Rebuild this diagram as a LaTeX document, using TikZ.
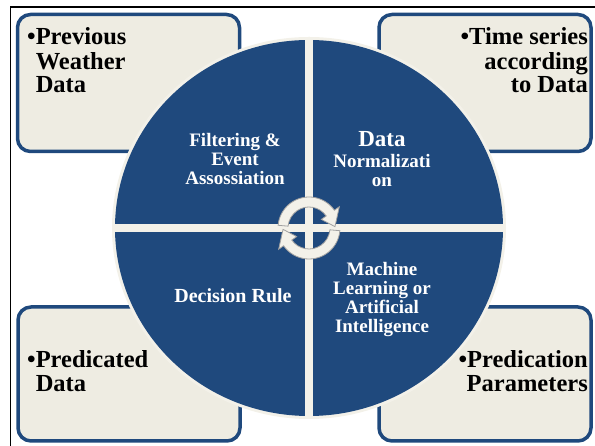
\documentclass[tikz,border=0pt]{standalone}
\usepackage{fontspec}
\setmainfont{Liberation Serif}

\definecolor{ringblue}{RGB}{31,73,125}
\definecolor{paper}{RGB}{238,236,226}
\definecolor{rim}{RGB}{243,241,233}
\definecolor{spinedge}{RGB}{160,160,160}

\begin{document}
\begin{tikzpicture}[x=1pt,y=1pt,
  card/.style={draw=ringblue,line width=3.5pt,fill=paper,rounded corners=13pt,inner sep=0pt},
  cardtext/.style={inner sep=0pt,font=\bfseries\fontsize{24.5}{23.5}\selectfont},
  quadtext/.style={inner sep=0pt,text=white,font=\bfseries\fontsize{19}{18.5}\selectfont},
  spin/.style={fill=rim,draw=spinedge,line width=0.8pt}]
\useasboundingbox (0,0) rectangle (595,446);
% outer frame
\draw[line width=1.6pt] (10.5,0) -- (10.5,439) -- (595,439);

% the four corner cards
\node[card,minimum width=222pt,minimum height=137pt] (prev) at (128.5,363) {};
\node[card,minimum width=212pt,minimum height=137pt] (series) at (485,363) {};
\node[card,minimum width=222pt,minimum height=134pt] (pred) at (129,72) {};
\node[card,minimum width=212pt,minimum height=134pt] (param) at (485,72) {};

\node[cardtext,anchor=base west] (prevtxt) at (27,401)
  {\begin{tabular}[t]{@{}l@{}l@{}}\textbullet&Previous\\&Weather\\&Data\end{tabular}};
\node[cardtext,anchor=base east] (seriestxt) at (588,401)
  {\begin{tabular}[t]{@{}r@{}}\textbullet Time series\\according\\to Data\end{tabular}};
\node[cardtext,anchor=base west] (predtxt) at (27,78)
  {\begin{tabular}[t]{@{}l@{}l@{}}\textbullet&Predicated\\&Data\end{tabular}};
\node[cardtext,anchor=base east] (paramtxt) at (588,78)
  {\begin{tabular}[t]{@{}r@{}}\textbullet Predication\\Parameters\end{tabular}};

% the ring, split in four
\coordinate (hub) at (309,218);
\fill[rim] (hub) ellipse [x radius=197,y radius=191];
\fill[ringblue] (hub) ellipse [x radius=194,y radius=188];
\begin{scope}
  \clip (hub) ellipse [x radius=197,y radius=191];
  \draw[rim,line width=8pt] ([yshift=-200pt]hub) -- ([yshift=200pt]hub);
  \draw[rim,line width=8pt] ([xshift=-200pt]hub) -- ([xshift=200pt]hub);
\end{scope}

\node[quadtext,anchor=base] (filter) at (235,299)
  {\begin{tabular}[t]{@{}c@{}}Filtering \&\\Event\\Assossiation\end{tabular}};
\node[quadtext,anchor=base] (norm) at (382,299)
  {\begin{tabular}[t]{@{}c@{}}{\fontsize{23}{22}\selectfont Data}\\[2pt]Normalizati\\on\end{tabular}};
\node[quadtext,anchor=base] (rule) at (233,143) {\fontsize{20}{20}\selectfont Decision Rule};
\node[quadtext,anchor=base] (learn) at (382,170)
  {\begin{tabular}[t]{@{}c@{}}Machine\\Learning or\\Artificial\\Intelligence\end{tabular}};

% cycle arrows in the middle
\begin{scope}[shift={(hub)}]
  \filldraw[spin] (175:31) arc[start angle=175,end angle=35,radius=31]
    -- (35:37) -- (3:26) -- (35:15) -- (35:21)
    arc[start angle=35,end angle=175,radius=21] -- cycle;
  \filldraw[spin] (-5:31) arc[start angle=-5,end angle=-145,radius=31]
    -- (-145:37) -- (-177:26) -- (-145:15) -- (-145:21)
    arc[start angle=-145,end angle=-5,radius=21] -- cycle;
\end{scope}
\end{tikzpicture}
\end{document}
